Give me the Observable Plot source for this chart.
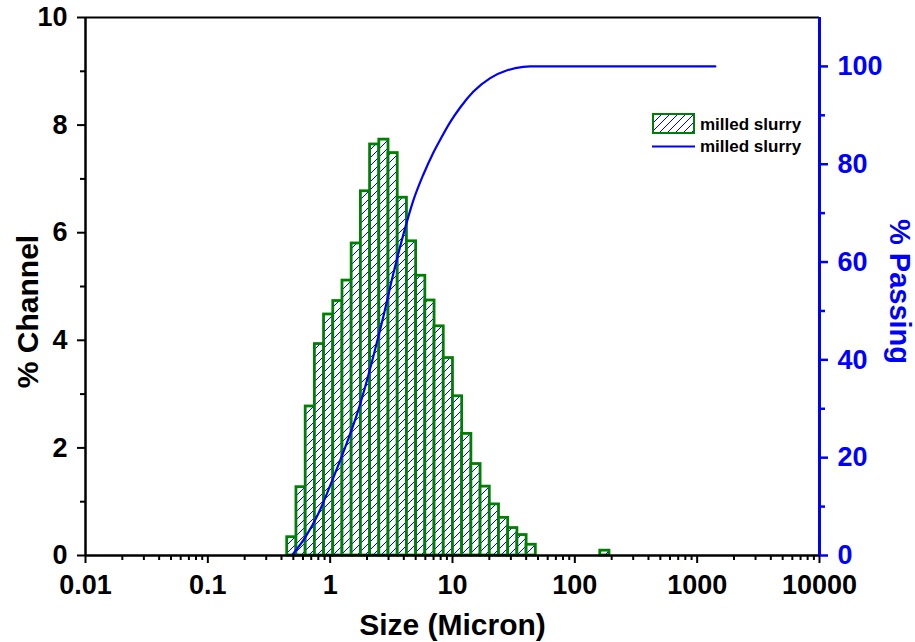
<!DOCTYPE html>
<html>
<head>
<meta charset="utf-8">
<script src="https://cdn.jsdelivr.net/npm/d3@7"></script>
<script src="https://cdn.jsdelivr.net/npm/@observablehq/plot@0.6"></script>
<style>
  html, body { margin: 0; padding: 0; background: #fff; }
  #chart { width: 915px; height: 642px; }
</style>
</head>
<body>
<div id="chart"></div>
<script>
// ---- data ----
const channelSize = [0.486, 0.578, 0.688, 0.818, 0.972, 1.156, 1.375, 1.635, 1.945, 2.312, 2.75, 3.27, 3.889, 4.625, 5.5, 6.541, 7.778, 9.25, 11, 13.08, 15.56, 18.5, 22, 26.16, 31.11, 37, 44, 176];
const channelPct  = [0.34, 1.27, 2.77, 3.93, 4.48, 4.73, 5.11, 5.80, 6.77, 7.64, 7.73, 7.48, 6.65, 5.84, 5.20, 4.74, 4.26, 3.67, 2.96, 2.26, 1.70, 1.28, 0.95, 0.70, 0.51, 0.38, 0.20, 0.09];
const curveSize   = [0.486, 0.625, 0.798, 1.038, 1.326, 1.663, 1.933, 2.247, 2.713, 3.274, 3.954, 4.771, 5.758, 6.954, 7.933, 9.576, 11.56, 14.77, 20.34, 28.01, 37.85, 43.18, 100, 500, 1408];
const passingPct  = [0, 3.7, 8.5, 15.3, 22.1, 29.0, 34.5, 40.6, 48.7, 57.5, 65.5, 72.5, 77.8, 82.3, 85.0, 88.6, 91.6, 94.8, 97.6, 99.2, 99.9, 100, 100, 100, 100];
const xTicks      = [0.01, 0.1, 1, 10, 100, 1000, 10000];
const leftTicks   = [0, 2, 4, 6, 8, 10];
const leftMinor   = [1, 3, 5, 7, 9];
const rightTicks  = [0, 20, 40, 60, 80, 100];
const rightMinor  = [10, 30, 50, 70, 90];
const seriesNames = ["milled slurry", "milled slurry"];
const xTitle = "Size (Micron)";
const yTitle = "% Channel";
const y2Title = "% Passing";

// ---- derived tables ----
const bars = channelSize.map((s, i) => ({size: s, pct: channelPct[i]}));
const curve = curveSize.map((s, i) => ({size: s, passing: passingPct[i]}));
const xMinor = xTicks.slice(0, -1).flatMap(d => d3.range(2, 10).map(k => k * d));
const halfBin = Math.pow(2, 1 / 8);          // channels are quarter-root-2 spaced
const y2 = d3.scaleLinear([0, 110], [0, 10]); // right axis (% passing) -> left axis units

const FONT = "'Liberation Sans', Arial, Helvetica, sans-serif";
const tickFont = {fontSize: 27, fontWeight: "bold"};

const plot = Plot.plot({
  width: 915,
  height: 642,
  marginLeft: 85,
  marginRight: 96,
  marginTop: 17,
  marginBottom: 87,
  style: {fontFamily: FONT, background: "white", overflow: "visible", color: "black"},
  x: {type: "log", domain: [0.01, 10000]},
  y: {domain: [0, 10]},
  marks: [
    Plot.rect(bars, {
      x1: d => d.size / halfBin, x2: d => d.size * halfBin,
      y1: 0, y2: "pct",
      fill: "url(#hatch)", stroke: "#008000", strokeWidth: 2.8
    }),
    Plot.line(curve, {x: "size", y: d => y2(d.passing), stroke: "#0000ff", strokeWidth: 2.2, curve: "monotone-x"}),

    // frame lines
    Plot.ruleY([10], {stroke: "black", strokeWidth: 2}),
    Plot.ruleY([0], {stroke: "black", strokeWidth: 2.5}),
    Plot.ruleX([0.01], {stroke: "black", strokeWidth: 2.5}),
    Plot.ruleX([10000], {stroke: "#0000ff", strokeWidth: 3}),

    // bottom axis
    Plot.axisX(xTicks, {tickSize: 8, tickPadding: 11, strokeWidth: 2, tickFormat: d => String(d), label: null, ...tickFont}),
    Plot.axisX(xMinor, {tickSize: 5, strokeWidth: 2, tickFormat: () => "", label: null}),
    // left axis
    Plot.axisY(leftTicks, {tickSize: 8, tickPadding: 10, strokeWidth: 2, tickFormat: d => String(d), label: null, ...tickFont}),
    Plot.axisY(leftMinor, {tickSize: 5, strokeWidth: 2, tickFormat: () => "", label: null}),
    // right axis
    Plot.axisY(rightTicks, {anchor: "right", y: y2, color: "#0000ff", tickSize: 8, tickPadding: 10, strokeWidth: 2.5, tickFormat: d => String(d), label: null, ...tickFont}),
    Plot.axisY(rightMinor, {anchor: "right", y: y2, color: "#0000ff", tickSize: 5, strokeWidth: 2.5, tickFormat: () => "", label: null}),

    // axis titles
    Plot.text([xTitle], {text: d => d, frameAnchor: "bottom", lineAnchor: "middle", textAnchor: "middle", dy: 70, fontSize: 30, fontWeight: "bold", fill: "black"}),
    Plot.text([yTitle], {text: d => d, frameAnchor: "left", textAnchor: "middle", lineAnchor: "middle", rotate: -90, dx: -57, dy: 25, fontSize: 30, fontWeight: "bold", fill: "black"}),
    Plot.text([y2Title], {text: d => d, frameAnchor: "right", textAnchor: "middle", lineAnchor: "middle", rotate: 90, dx: 80, dy: 5, fontSize: 29, fontWeight: "bold", fill: "#0000ff"})
  ]
});

// hatch pattern + legend
const svg = d3.select(plot);
svg.insert("defs", ":first-child").html(`
  <pattern id="hatch" patternUnits="userSpaceOnUse" width="8" height="8">
    <rect width="8" height="8" fill="white"></rect>
    <path d="M-1,9 L9,-1 M-3,3 L3,-3 M5,11 L11,5" stroke="#0000ff" stroke-width="1"></path>
  </pattern>`);

const lg = svg.append("g").attr("font-family", FONT).attr("font-weight", "bold").attr("font-size", 17).attr("text-anchor", "start").attr("fill", "black");
lg.append("rect").attr("x", 653).attr("y", 114).attr("width", 41).attr("height", 19)
  .attr("fill", "url(#hatch)").attr("stroke", "#008000").attr("stroke-width", 2);
lg.append("text").attr("x", 700).attr("y", 124).attr("dy", "0.35em").text(seriesNames[0]);
lg.append("line").attr("x1", 652).attr("x2", 695).attr("y1", 146.5).attr("y2", 146.5)
  .attr("stroke", "#0000ff").attr("stroke-width", 2.2);
lg.append("text").attr("x", 700).attr("y", 146).attr("dy", "0.35em").text(seriesNames[1]);

document.getElementById("chart").appendChild(plot);
</script>
</body>
</html>
